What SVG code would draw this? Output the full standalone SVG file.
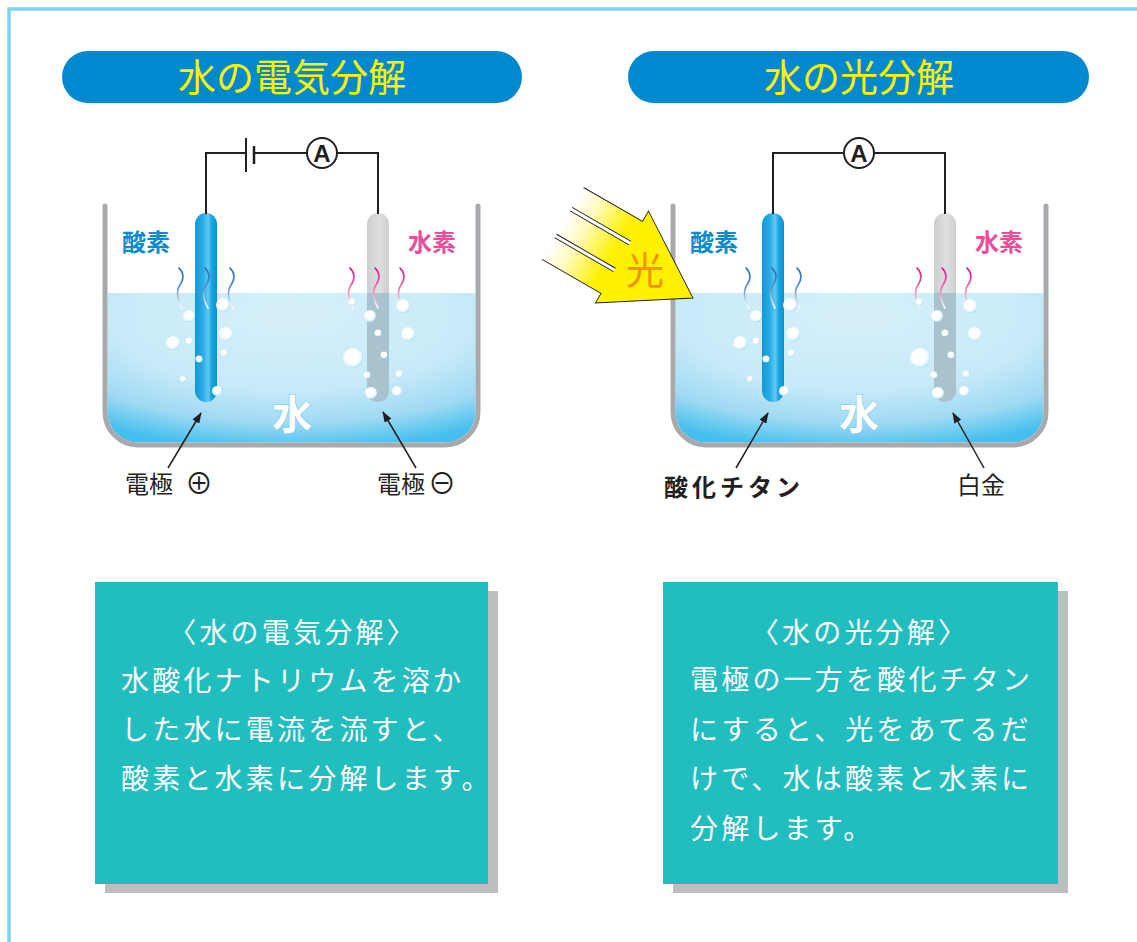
<svg xmlns="http://www.w3.org/2000/svg" xmlns:xlink="http://www.w3.org/1999/xlink" width="1137" height="942" viewBox="0 0 1137 942">
  <style>
    .jp { font-family: "Noto Sans CJK JP", "Noto Sans CJK SC", sans-serif; }
    .title { font-size: 38px; fill: #fff200; text-anchor: middle; }
    .pill { fill: #0089cf; }
    .wire { fill: none; stroke: #231f20; stroke-width: 2; }
    .wall { fill: none; stroke: #a7a9ac; stroke-width: 5; stroke-linecap: round; stroke-linejoin: round; }
    .water { fill: url(#gWater); }
    .o2 { font-size: 24px; font-weight: bold; fill: #0a8bcf; }
    .h2 { font-size: 24px; font-weight: bold; fill: #ec4d9b; }
    .sqB { fill: none; stroke: url(#gSqB); stroke-width: 1.6; stroke-linecap: round; }
    .sqP { fill: none; stroke: url(#gSqP); stroke-width: 1.6; stroke-linecap: round; }
    .bub { fill: url(#gBub); }
    .aq { font-size: 40px; font-weight: bold; fill: #ffffff; stroke: #86d2ef; stroke-width: 1.5; paint-order: stroke; text-anchor: middle; }
    .lbl { font-size: 24px; fill: #231f20; }
    .sym { font-size: 28px; fill: #231f20; }
    .ptr { fill: none; stroke: #231f20; stroke-width: 1.5; marker-end: url(#mHead); }
    .box { fill: #22bdbf; }
    .shadow { fill: #bcbec0; }
    .body { font-size: 28px; fill: #ffffff; letter-spacing: 3.2px; }
    .amm { fill: #ffffff; stroke: #231f20; stroke-width: 2; }
    .ammA { font-family: "Liberation Sans", Arial, sans-serif; font-size: 24px; font-weight: bold; fill: #231f20; text-anchor: middle; }
  </style>
  <defs>
    <radialGradient id="gWater" cx="50%" cy="15%" r="90%">
      <stop offset="0" stop-color="#d6f0fa"/>
      <stop offset="0.55" stop-color="#c8eaf8"/>
      <stop offset="0.8" stop-color="#9fdaf3"/>
      <stop offset="1" stop-color="#45bfee"/>
    </radialGradient>
    <linearGradient id="gBlueRod" x1="0" y1="0" x2="1" y2="0">
      <stop offset="0" stop-color="#1199d7"/>
      <stop offset="0.35" stop-color="#27ace4"/>
      <stop offset="0.6" stop-color="#63c8f0"/>
      <stop offset="0.75" stop-color="#1ca6e1"/>
      <stop offset="1" stop-color="#0a8fcf"/>
    </linearGradient>
    <linearGradient id="gGrayRod" x1="0" y1="0" x2="1" y2="0">
      <stop offset="0" stop-color="#cbcdce"/>
      <stop offset="0.55" stop-color="#dedfe0"/>
      <stop offset="1" stop-color="#cccecf"/>
    </linearGradient>
    <linearGradient id="gSqB" x1="0" y1="0" x2="0" y2="1">
      <stop offset="0" stop-color="#1d6fb7"/>
      <stop offset="0.5" stop-color="#5d90cc"/>
      <stop offset="1" stop-color="#ffffff"/>
    </linearGradient>
    <linearGradient id="gSqP" x1="0" y1="0" x2="0" y2="1">
      <stop offset="0" stop-color="#e3067f"/>
      <stop offset="0.5" stop-color="#ee74ae"/>
      <stop offset="1" stop-color="#ffffff"/>
    </linearGradient>
    <radialGradient id="gBub" cx="45%" cy="42%" r="58%">
      <stop offset="0" stop-color="#ffffff"/>
      <stop offset="0.55" stop-color="#ffffff"/>
      <stop offset="0.85" stop-color="#e2f4fc"/>
      <stop offset="1" stop-color="#a4dbf3"/>
    </radialGradient>
    <linearGradient id="gLight" gradientUnits="userSpaceOnUse" x1="-150" y1="0" x2="-92" y2="0">
      <stop offset="0" stop-color="#ffffff"/>
      <stop offset="0.35" stop-color="#fffbc4"/>
      <stop offset="1" stop-color="#fff100"/>
    </linearGradient>
    <marker id="mHead" markerUnits="userSpaceOnUse" markerWidth="11" markerHeight="8" refX="10" refY="4" orient="auto">
      <path d="M0,0 L11,4 L0,8 Z" fill="#231f20"/>
    </marker>
    <!-- rising gas trail -->
    <path id="sq" d="M0,0 C5,5 5,11 1,17 S-2,31 3,40"/>
  </defs>

  <!-- page frame -->
  <rect x="9" y="9" width="1150" height="960" fill="none" stroke="#7fd3f3" stroke-width="3.5"/>

  <!-- ================= left: electrolysis ================= -->
  <g id="title-electrolysis">
    <rect class="pill" x="62" y="51" width="460" height="52" rx="26"/>
    <text class="jp title" x="292" y="91">水の電気分解</text>
  </g>

  <g id="beaker-electrolysis">
    <path class="water" d="M107.5,293 H475.5 V412 A30.5,30.5 0 0 1 445,442.5 H138 A30.5,30.5 0 0 1 107.5,412 Z"/>
    <path class="wall" d="M105,206 V412 A33,33 0 0 0 138,445 H445 A33,33 0 0 0 478,412 V206"/>
    <text class="jp aq" x="292" y="429">水</text>
  </g>

  <g id="anode-electrolysis">
    <rect x="195" y="213" width="22" height="189" rx="11" fill="url(#gBlueRod)"/>
  </g>
  <g id="cathode-electrolysis">
    <rect x="367" y="213" width="22" height="189" rx="11" fill="url(#gGrayRod)"/>
    <path d="M367,293 H389 V391 A11,11 0 0 1 367,391 Z" fill="#a8c3ce"/>
  </g>

  <g id="gas-electrolysis">
    <text class="jp o2" x="122" y="251">酸素</text>
    <text class="jp h2" x="408" y="251">水素</text>
    <use href="#sq" class="sqB" x="179" y="268"/>
    <use href="#sq" class="sqB" x="205" y="268"/>
    <use href="#sq" class="sqB" x="230" y="268"/>
    <use href="#sq" class="sqP" x="350" y="268"/>
    <use href="#sq" class="sqP" x="375" y="268"/>
    <use href="#sq" class="sqP" x="400" y="268"/>
  </g>

  <g id="bubbles-electrolysis">
    <circle class="bub" cx="223" cy="305" r="7"/>
    <circle class="bub" cx="189" cy="316" r="6"/>
    <circle class="bub" cx="226" cy="334" r="7"/>
    <circle class="bub" cx="173" cy="343" r="7"/>
    <circle class="bub" cx="189" cy="341" r="3.5"/>
    <circle class="bub" cx="224" cy="353" r="3.5"/>
    <circle class="bub" cx="199" cy="359" r="3.5"/>
    <circle class="bub" cx="183" cy="379" r="3"/>
    <circle class="bub" cx="217" cy="391" r="5"/>
    <circle class="bub" cx="352" cy="302" r="3.5"/>
    <circle class="bub" cx="370" cy="316" r="6"/>
    <circle class="bub" cx="403" cy="306" r="7"/>
    <circle class="bub" cx="378" cy="333" r="3.5"/>
    <circle class="bub" cx="408" cy="334" r="7"/>
    <circle class="bub" cx="353" cy="358" r="10"/>
    <circle class="bub" cx="384" cy="355" r="3.5"/>
    <circle class="bub" cx="367" cy="375" r="3.5"/>
    <circle class="bub" cx="399" cy="374" r="3.5"/>
    <circle class="bub" cx="371" cy="393" r="6"/>
    <circle class="bub" cx="397" cy="391" r="5"/>
  </g>

  <g id="battery">
    <line x1="246" y1="138" x2="246" y2="172" stroke="#231f20" stroke-width="2"/>
    <line x1="254" y1="146" x2="254" y2="164" stroke="#231f20" stroke-width="2.5"/>
  </g>
  <g id="ammeter-electrolysis">
    <circle class="amm" cx="322" cy="153" r="15"/>
    <text class="ammA" x="322" y="161.5">A</text>
  </g>

  <g id="labels-electrolysis">
    <text class="jp lbl" x="125" y="493">電極</text>
    <text class="jp sym" x="185" y="494">⊕</text>
    <text class="jp lbl" x="377" y="493">電極</text>
    <text class="jp sym" x="428" y="494">⊖</text>
  </g>

  <g id="note-electrolysis">
    <rect class="shadow" x="105" y="591" width="393" height="302"/>
    <rect class="box" x="95" y="582" width="393" height="302"/>
    <text class="jp body" x="293" y="643" text-anchor="middle">〈水の電気分解〉</text>
    <text class="jp body" x="121" y="691">水酸化ナトリウムを溶か</text>
    <text class="jp body" x="121" y="740">した水に電流を流すと、</text>
    <text class="jp body" x="121" y="789">酸素と水素に分解します。</text>
  </g>

  <!-- ================= right: photolysis ================= -->
  <g id="title-photolysis">
    <rect class="pill" x="628" y="51" width="461" height="52" rx="26"/>
    <text class="jp title" x="859" y="91">水の光分解</text>
  </g>

  <g id="beaker-photolysis">
    <path class="water" d="M675.5,293 H1043.5 V412 A30.5,30.5 0 0 1 1013,442.5 H706 A30.5,30.5 0 0 1 675.5,412 Z"/>
    <path class="wall" d="M673,206 V412 A33,33 0 0 0 706,445 H1013 A33,33 0 0 0 1046,412 V206"/>
    <text class="jp aq" x="859" y="429">水</text>
  </g>

  <g id="anode-photolysis">
    <rect x="762" y="213" width="22" height="189" rx="11" fill="url(#gBlueRod)"/>
  </g>
  <g id="cathode-photolysis">
    <rect x="934" y="213" width="22" height="189" rx="11" fill="url(#gGrayRod)"/>
    <path d="M934,293 H956 V391 A11,11 0 0 1 934,391 Z" fill="#a8c3ce"/>
  </g>

  <g id="gas-photolysis">
    <text class="jp o2" x="690" y="251">酸素</text>
    <text class="jp h2" x="975" y="251">水素</text>
    <use href="#sq" class="sqB" x="746" y="268"/>
    <use href="#sq" class="sqB" x="772" y="268"/>
    <use href="#sq" class="sqB" x="797" y="268"/>
    <use href="#sq" class="sqP" x="917" y="268"/>
    <use href="#sq" class="sqP" x="942" y="268"/>
    <use href="#sq" class="sqP" x="967" y="268"/>
  </g>

  <g id="bubbles-photolysis">
    <circle class="bub" cx="790" cy="305" r="7"/>
    <circle class="bub" cx="756" cy="316" r="6"/>
    <circle class="bub" cx="793" cy="334" r="7"/>
    <circle class="bub" cx="740" cy="343" r="7"/>
    <circle class="bub" cx="756" cy="341" r="3.5"/>
    <circle class="bub" cx="791" cy="353" r="3.5"/>
    <circle class="bub" cx="766" cy="359" r="3.5"/>
    <circle class="bub" cx="750" cy="379" r="3"/>
    <circle class="bub" cx="784" cy="391" r="5"/>
    <circle class="bub" cx="919" cy="302" r="3.5"/>
    <circle class="bub" cx="937" cy="316" r="6"/>
    <circle class="bub" cx="970" cy="306" r="7"/>
    <circle class="bub" cx="945" cy="333" r="3.5"/>
    <circle class="bub" cx="975" cy="334" r="7"/>
    <circle class="bub" cx="920" cy="358" r="10"/>
    <circle class="bub" cx="951" cy="355" r="3.5"/>
    <circle class="bub" cx="934" cy="375" r="3.5"/>
    <circle class="bub" cx="966" cy="374" r="3.5"/>
    <circle class="bub" cx="938" cy="393" r="6"/>
    <circle class="bub" cx="964" cy="391" r="5"/>
  </g>

  <g id="ammeter-photolysis">
    <circle class="amm" cx="859" cy="153" r="15"/>
    <text class="ammA" x="859" y="161.5">A</text>
  </g>

  <!-- incoming light: a broad arrow made of three rays -->
  <g id="light">
    <g transform="translate(693,298) rotate(30)">
      <polygon points="-150,-41 -82,-41 -82,-53 0,0 -82,53 -82,42 -150,42" fill="url(#gLight)"/>
      <polyline points="-150,-41 -82,-41 -82,-53 0,0 -82,53 -82,42 -150,42" fill="none" stroke="#231f20" stroke-width="0.9" stroke-linejoin="miter"/>
      <rect x="-150" y="-18" width="68" height="4" fill="#ffffff"/>
      <line x1="-150" y1="-18" x2="-82" y2="-18" stroke="#231f20" stroke-width="0.9"/>
      <line x1="-150" y1="-14" x2="-82" y2="-14" stroke="#231f20" stroke-width="0.9"/>
      <rect x="-150" y="13" width="68" height="4" fill="#ffffff"/>
      <line x1="-150" y1="13" x2="-82" y2="13" stroke="#231f20" stroke-width="0.9"/>
      <line x1="-150" y1="17" x2="-82" y2="17" stroke="#231f20" stroke-width="0.9"/>
    </g>
    <text class="jp" x="645" y="284" font-size="38" fill="#f39200" text-anchor="middle">光</text>
  </g>

  <g id="labels-photolysis">
    <text class="jp lbl" x="664" y="496" font-size="26" font-weight="bold" letter-spacing="4">酸化チタン</text>
    <text class="jp lbl" x="957" y="494" font-size="25">白金</text>
  </g>

  <g id="note-photolysis">
    <rect class="shadow" x="673" y="591" width="395" height="302"/>
    <rect class="box" x="663" y="582" width="395" height="302"/>
    <text class="jp body" x="860" y="643" text-anchor="middle">〈水の光分解〉</text>
    <text class="jp body" x="690" y="690">電極の一方を酸化チタン</text>
    <text class="jp body" x="690" y="740">にすると、光をあてるだ</text>
    <text class="jp body" x="690" y="789">けで、水は酸素と水素に</text>
    <text class="jp body" x="690" y="839">分解します。</text>
  </g>

  <!-- wiring and pointer lines -->
  <g id="connectors">
    <polyline class="wire" points="206,214 206,153 246,153"/>
    <polyline class="wire" points="254,153 307,153"/>
    <polyline class="wire" points="337,153 378,153 378,214"/>
    <polyline class="wire" points="773,214 773,153 844,153"/>
    <polyline class="wire" points="874,153 945,153 945,214"/>
    <line class="ptr" x1="168" y1="468" x2="201" y2="413"/>
    <line class="ptr" x1="416" y1="468" x2="383" y2="412"/>
    <line class="ptr" x1="736" y1="468" x2="768" y2="413"/>
    <line class="ptr" x1="984" y1="468" x2="953" y2="413"/>
  </g>
</svg>
